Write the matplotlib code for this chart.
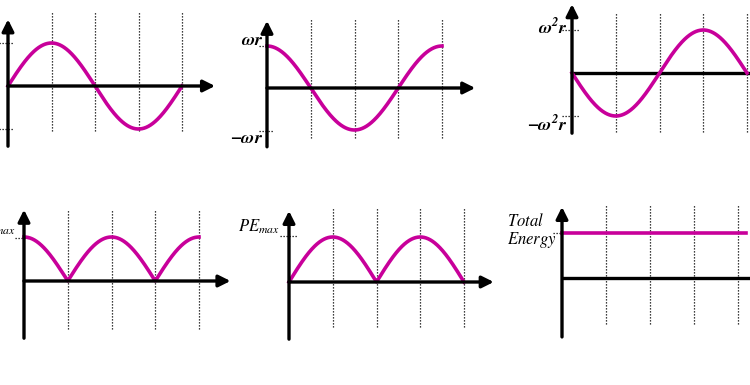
import matplotlib
matplotlib.use("Agg")
import matplotlib.pyplot as plt
import numpy as np

plt.rcParams['mathtext.fontset'] = 'custom'
plt.rcParams['mathtext.rm'] = 'STIXGeneral'
plt.rcParams['mathtext.it'] = 'STIXGeneral:italic'
plt.rcParams['mathtext.bf'] = 'STIXGeneral:italic:bold'

W, H = 750, 385
PINK = '#c8009a'

# time in periods, quarter-period guide lines
t = np.linspace(0, 1, 500)
quarters = [0.25, 0.5, 0.75, 1.0]

# the six SHM curves (amplitude units)
displacement = np.sin(2 * np.pi * t)
velocity = np.cos(2 * np.pi * t)
acceleration = -np.sin(2 * np.pi * t)
kinetic = np.abs(np.cos(2 * np.pi * t))
potential = np.abs(np.sin(2 * np.pi * t))
total_t = [0, 1.045]
total = [1, 1]

# y-axis labels of each panel
labels_v = [r'$\mathbf{\omega r}$', r'$\mathbf{-\omega r}$']
labels_a = [r'$\mathbf{\omega^2 r}$', r'$\mathbf{-\omega^2 r}$']
label_ke = r'$KE_{max}$'
label_pe = r'$PE_{max}$'
label_te = [r'$Total$', r'$Energy$']

fig = plt.figure(figsize=(W / 100, H / 100), dpi=100)


def panel(ox, oy, pt, pa, ytop, ybot, xtip, dtop, dbot, tick, ticks):
    # one transparent axes over the whole figure, origin at pixel (ox, oy)
    ax = fig.add_axes([0, 0, 1, 1])
    ax.set_xlim(-ox / pt, (W - ox) / pt)
    ax.set_ylim(-(H - oy) / pa, oy / pa)
    ax.axis('off')
    ax.patch.set_alpha(0)
    arrow = dict(arrowstyle='-|>,head_length=0.5,head_width=0.25', lw=2.4,
                 color='k', shrinkA=0, shrinkB=0, mutation_scale=14)
    ax.annotate('', xy=(0, ytop), xytext=(0, ybot), arrowprops=arrow)
    if xtip is None:
        ax.plot([0, (W - ox) / pt + 0.1], [0, 0], color='k', lw=2.4,
                solid_capstyle='butt')
    else:
        ax.annotate('', xy=(xtip, 0), xytext=(0, 0), arrowprops=arrow)
    for q in quarters:
        ax.plot([q, q], [dbot, dtop], color='k', lw=0.9, dashes=(1, 1.4))
    for yv in ticks:
        ax.plot(tick, [yv, yv], color='k', lw=0.9, dashes=(1, 1.4))
    return ax


ax1 = panel(8, 86, 174, 43, 1.55, -1.4, 1.19, 1.75, -1.05, [-0.05, 0.034], [1, -1])
ax1.plot(t, displacement, color=PINK, lw=2.6)

ax2 = panel(267, 88, 175, 42, 1.6, -1.4, 1.19, 1.64, -1.19, [-0.046, 0.034], [1.0, -1.02])
ax2.plot(t, velocity, color=PINK, lw=2.6)
ax2.text(-0.02, 1.14, labels_v[0], ha='right', va='center', fontsize=13)
ax2.text(-0.02, -1.19, labels_v[1], ha='right', va='center', fontsize=13)

ax3 = panel(572, 73, 175, 43, 1.6, -1.4, None, 1.4, -1.37, [-0.057, 0.04], [1, -1])
ax3.plot(t, acceleration, color=PINK, lw=2.6)
ax3.text(-0.027, 1.07, labels_a[0], ha='right', va='center', fontsize=13)
ax3.text(-0.027, -1.2, labels_a[1], ha='right', va='center', fontsize=13)

ax4 = panel(24, 281, 175, 44, 1.62, -1.3, 1.18, 1.62, -1.1, [-0.05, 0.034], [0.98])
ax4.plot(t, kinetic, color=PINK, lw=2.6)
ax4.text(-0.05, 1.2, label_ke, ha='right', va='center', fontsize=12)

ax5 = panel(289, 282, 175, 45, 1.58, -1.27, 1.17, 1.64, -1.0, [-0.05, 0.046], [1.02])
ax5.plot(t, potential, color=PINK, lw=2.6)
ax5.text(-0.29, 1.22, label_pe, ha='left', va='center', fontsize=12)

ax6 = panel(562, 278, 176, 45, 1.58, -1.31, None, 1.62, -1.02, [-0.05, 0.017], [1])
ax6.plot(total_t, total, color=PINK, lw=2.6)
ax6.text(-0.31, 1.27, label_te[0], ha='left', va='center', fontsize=12)
ax6.text(-0.31, 0.84, label_te[1], ha='left', va='center', fontsize=12)

fig.savefig('out.png', dpi=100)
